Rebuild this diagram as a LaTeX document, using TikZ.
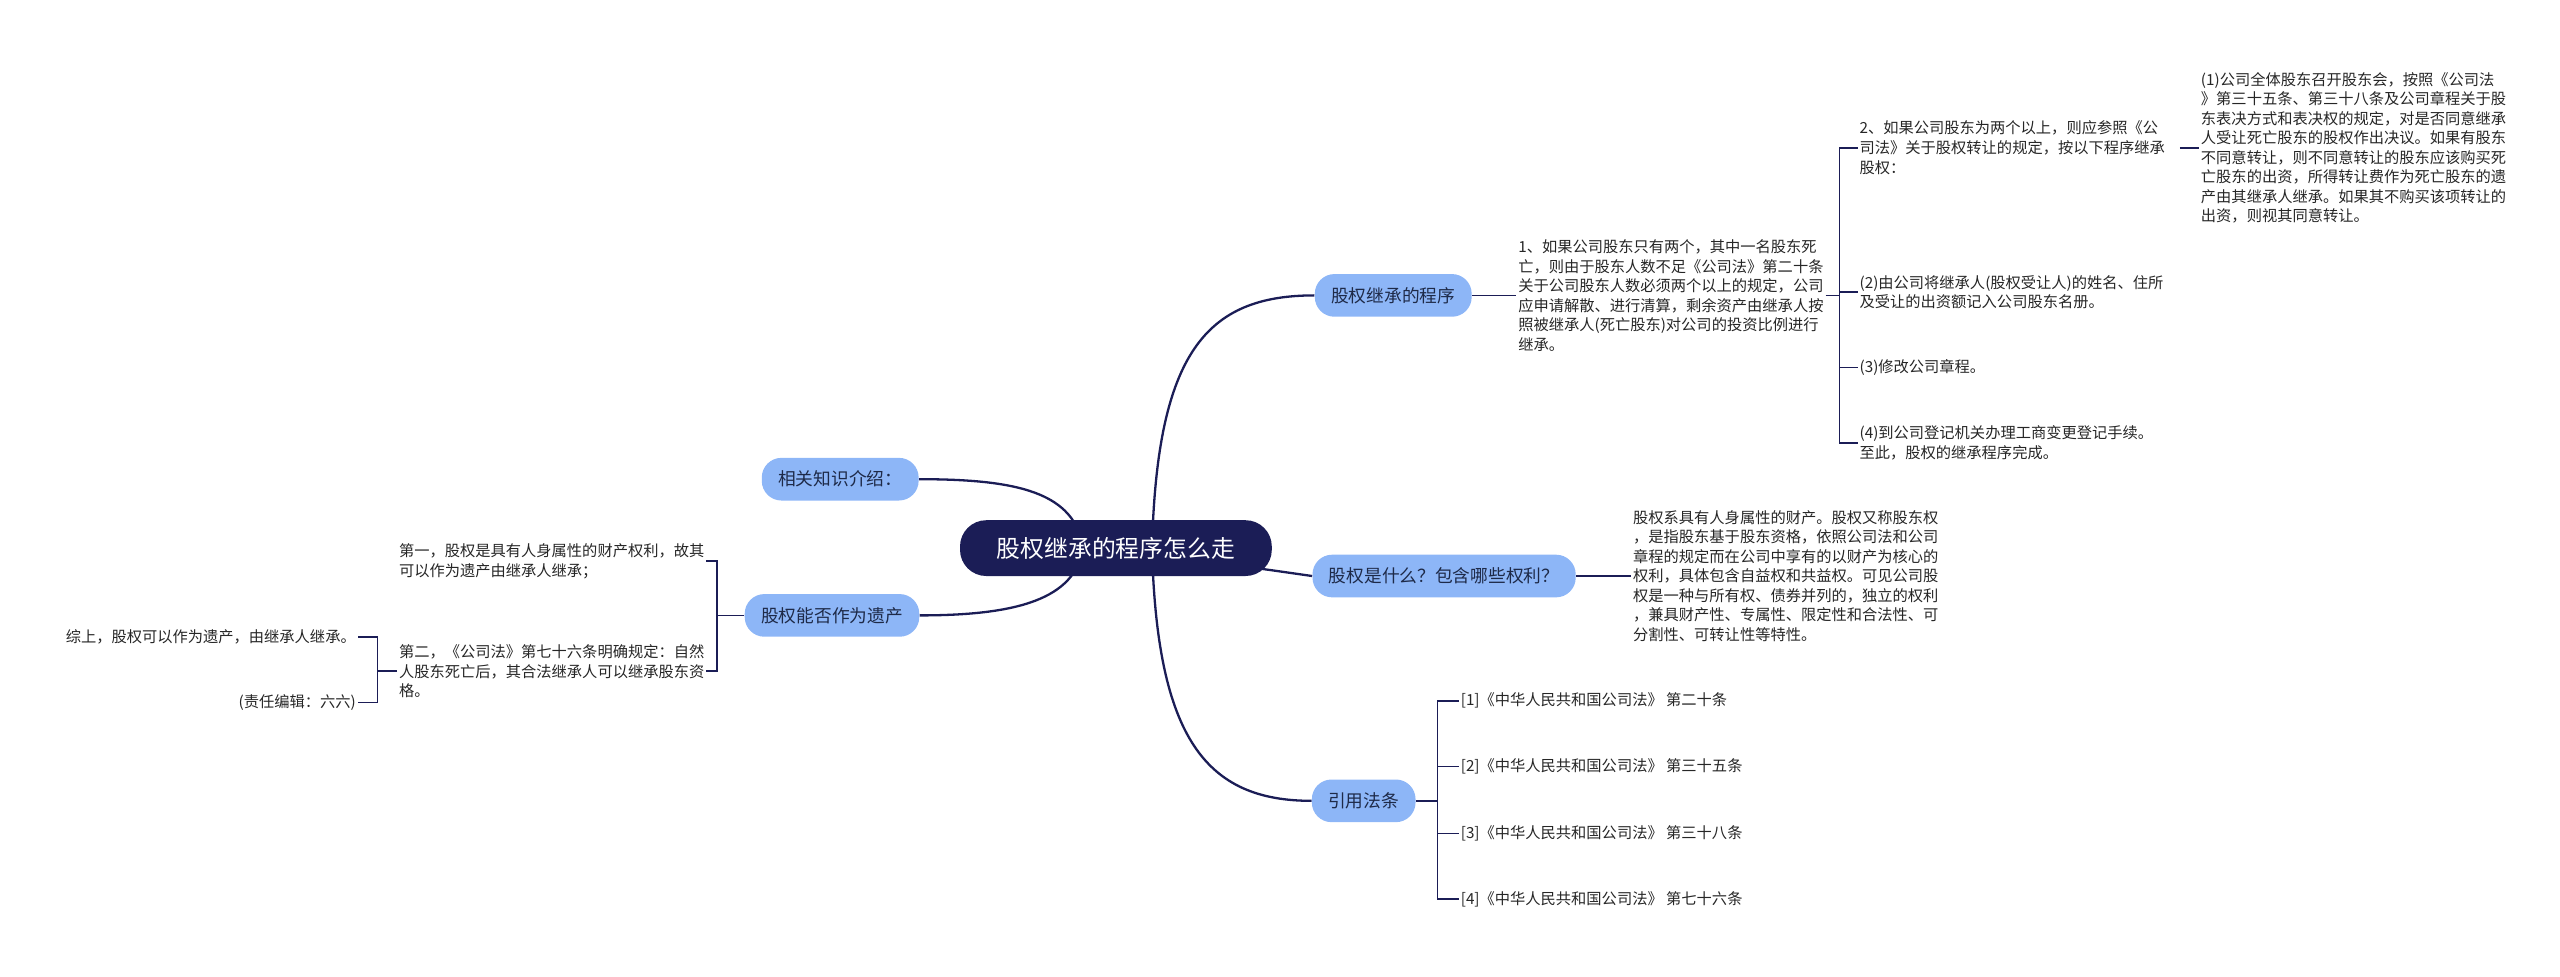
\documentclass[tikz,border=0pt]{standalone}
\usepackage{fontspec}
\setmainfont{Noto Sans CJK SC}
\usetikzlibrary{backgrounds}
\definecolor{navy}{HTML}{1B1D56}
\definecolor{topicblue}{HTML}{8DB6F7}
\definecolor{topictext}{HTML}{1E2A48}

\begin{document}
\begin{tikzpicture}[x=1pt,y=-1pt]
        \tikzset{
            root_node/.style={draw=none, fill=navy, text=white, rounded corners=16pt, minimum width=190pt, minimum height=34pt, font=\fontsize{14.5}{17}\selectfont},
            topic/.style={fill=topicblue, text=topictext, rounded corners=12pt, minimum height=26pt, inner xsep=10pt, font=\fontsize{10.8}{13}\selectfont},
            leaf/.style={inner sep=1pt, align=left, text=black!85, font=\fontsize{9.3}{11.9}\selectfont},
            link/.style={draw=navy, line width=1pt},
            mainlink/.style={draw=navy, line width=1.4pt}
        }
        \useasboundingbox (0,0) rectangle (1560,595);
        \node[root_node] (R) at (680,334) {股权继承的程序怎么走};
        \node[topic] (A) at (849,180) {股权继承的程序};
        \node[topic] (B) at (880,351) {股权是什么？包含哪些权利？};
        \node[topic] (C) at (831,488) {引用法条};
        \node[topic] (D) at (512,292) {相关知识介绍：};
        \node[topic] (E) at (507,375) {股权能否作为遗产};
        % right side texts
        \node[leaf, anchor=west] (T1) at (924,180) {1、如果公司股东只有两个，其中一名股东死\\亡，则由于股东人数不足《公司法》第二十条\\关于公司股东人数必须两个以上的规定，公司\\应申请解散、进行清算，剩余资产由继承人按\\照被继承人(死亡股东)对公司的投资比例进行\\继承。};
        \node[leaf, anchor=west] (T2) at (1132,90) {2、如果公司股东为两个以上，则应参照《公\\司法》关于股权转让的规定，按以下程序继承\\股权：};
        \node[leaf, anchor=west] (T3) at (1132,178) {(2)由公司将继承人(股权受让人)的姓名、住所\\及受让的出资额记入公司股东名册。};
        \node[leaf, anchor=west] (T4) at (1132,224) {(3)修改公司章程。};
        \node[leaf, anchor=west] (T5) at (1132,270) {(4)到公司登记机关办理工商变更登记手续。\\至此，股权的继承程序完成。};
        \node[leaf, anchor=west] (T6) at (1340,90) {(1)公司全体股东召开股东会，按照《公司法\\》第三十五条、第三十八条及公司章程关于股\\东表决方式和表决权的规定，对是否同意继承\\人受让死亡股东的股权作出决议。如果有股东\\不同意转让，则不同意转让的股东应该购买死\\亡股东的出资，所得转让费作为死亡股东的遗\\产由其继承人继承。如果其不购买该项转让的\\出资，则视其同意转让。};
        \node[leaf, anchor=west] (T7) at (994,351) {股权系具有人身属性的财产。股权又称股东权\\，是指股东基于股东资格，依照公司法和公司\\章程的规定而在公司中享有的以财产为核心的\\权利，具体包含自益权和共益权。可见公司股\\权是一种与所有权、债券并列的，独立的权利\\，兼具财产性、专属性、限定性和合法性、可\\分割性、可转让性等特性。};
        \node[leaf, anchor=west] (L1) at (889,427) {[1]《中华人民共和国公司法》 第二十条};
        \node[leaf, anchor=west] (L2) at (889,467) {[2]《中华人民共和国公司法》 第三十五条};
        \node[leaf, anchor=west] (L3) at (889,508) {[3]《中华人民共和国公司法》 第三十八条};
        \node[leaf, anchor=west] (L4) at (889,548) {[4]《中华人民共和国公司法》 第七十六条};
        % left side texts
        \node[leaf, anchor=west] (T8) at (242,342) {第一，股权是具有人身属性的财产权利，故其\\可以作为遗产由继承人继承；};
        \node[leaf, anchor=west] (T9) at (242,409) {第二，《公司法》第七十六条明确规定：自然\\人股东死亡后，其合法继承人可以继承股东资\\格。};
        \node[leaf, anchor=east, align=right] (T10) at (218,388) {综上，股权可以作为遗产，由继承人继承。};
        \node[leaf, anchor=east, align=right] (T11) at (218,428) {(责任编辑：六六)};

        \begin{scope}[on background layer]
        % root to topics
        \path[mainlink] (R.center) ++(22,0) .. controls (705,215) and (735,180) .. (A.west);
        \path[mainlink] (R.center) ++(22,0) .. controls (705,450) and (735,488) .. (C.west);
        \path[mainlink] (R.center) -- (B.west);
        \path[mainlink] (R.center) ++(-20,0) .. controls (655,300) and (620,292) .. (D.east);
        \path[mainlink] (R.center) ++(-20,0) .. controls (655,365) and (620,375) .. (E.east);
        \end{scope}
        % topic to texts
        \path[link] (A.east) -- (T1.west);
        \path[link] (B.east) -- (T7.west);
        \path[link] (T2.east) ++(8,0) -- (T6.west);
        % brackets
        \path[link] (T1.east) -- (1121,180);
        \foreach \n in {T2,T3,T4,T5}
            \path[link] (1121,180) .. controls (1121,180) and (1121,180) .. (1121,180) |- ([yshift=0pt]\n.west);
        \path[link] (C.east) -- (876,488);
        \foreach \n in {L1,L2,L3,L4}
            \path[link] (876,488) |- (\n.west);
        \path[link] (E.west) -- (437,375);
        \foreach \n in {T8,T9}
            \path[link] (437,375) |- (\n.east);
        \path[link] (T9.west) -- (230,409);
        \foreach \n in {T10,T11}
            \path[link] (230,409) |- (\n.east);
\end{tikzpicture}
\end{document}
